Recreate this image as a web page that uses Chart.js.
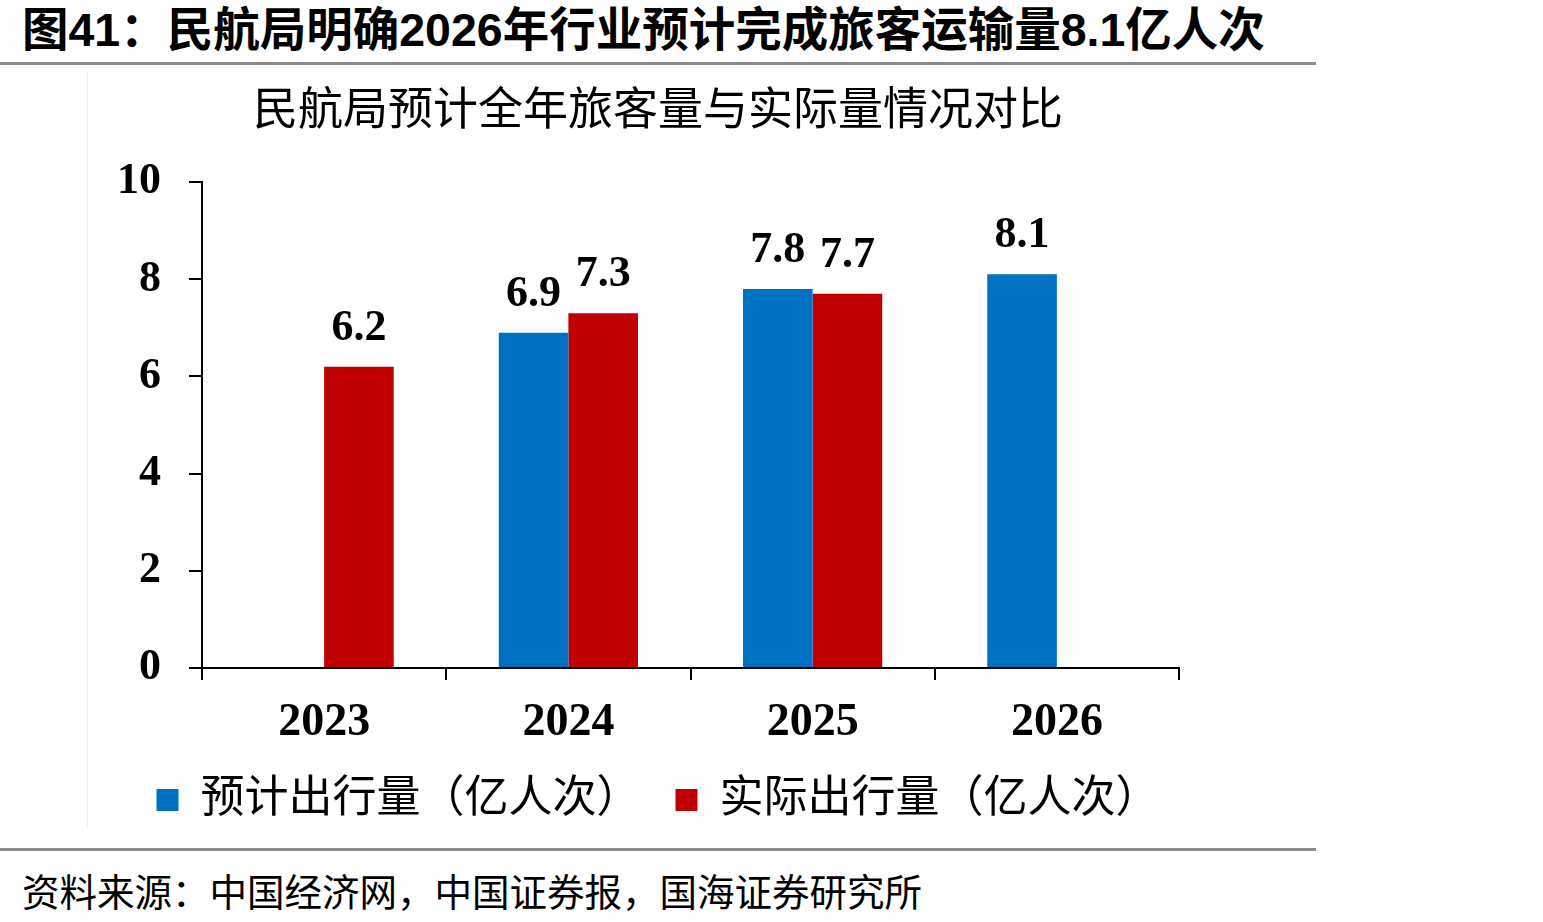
<!DOCTYPE html>
<html lang="zh">
<head>
<meta charset="UTF-8">
<title>民航局预计全年旅客量与实际量情况对比</title>
<script src="https://cdn.jsdelivr.net/npm/chart.js"></script>
<style>
  body { margin: 0; background: #fff; width: 1543px; height: 922px; position: relative; overflow: hidden; }
  #hd { position: absolute; left: 22px; top: -8px; font: bold 46.5px "Liberation Sans", "Noto Sans CJK SC", sans-serif; color: #000; white-space: nowrap; }
  .rule { position: absolute; left: 0; width: 1316px; height: 3px; background: #8c8c8c; }
  #src { position: absolute; left: 22px; top: 862px; font: 37.5px "Liberation Sans", "Noto Sans CJK SC", sans-serif; color: #000; white-space: nowrap; }
  #panel { position: absolute; left: 87px; top: 72px; width: 1px; height: 756px; background: #f0f0f0; }
  #box { position: absolute; left: 0; top: 70px; width: 1316px; height: 775px; }
</style>
</head>
<body>
<div id="hd">图41：民航局明确2026年行业预计完成旅客运输量8.1亿人次</div>
<div class="rule" style="top:62px"></div>
<div id="panel"></div>
<div id="box"><canvas id="chart"></canvas></div>
<div class="rule" style="top:848px"></div>
<div id="src">资料来源：中国经济网，中国证券报，国海证券研究所</div>
<script>
// data
const years = ['2023', '2024', '2025', '2026'];
const planned = [null, 6.9, 7.8, 8.1];   // 预计出行量（亿人次）
const actual = [6.2, 7.3, 7.7, null];    // 实际出行量（亿人次）
const yTicks = [0, 2, 4, 6, 8, 10];

const serif = '"Liberation Serif", "Noto Sans CJK SC", serif';

// value labels above each bar
const barLabels = {
    id: 'barLabels',
    afterDatasetsDraw(chart) {
        const ctx = chart.ctx;
        ctx.save();
        ctx.font = 'bold 44px ' + serif;
        ctx.fillStyle = '#000';
        ctx.textAlign = 'center';
        ctx.textBaseline = 'alphabetic';
        chart.data.datasets.forEach((ds, i) => {
            chart.getDatasetMeta(i).data.forEach((bar, j) => {
                const v = ds.data[j];
                if (v === null) return;
                ctx.fillText(v.toFixed(1), bar.x, bar.y - 27);
            });
        });
        ctx.restore();
    }
};

const chart = new Chart(document.getElementById('chart'), {
    type: 'bar',
    data: {
        labels: years,
        datasets: [
            { label: '预计出行量（亿人次）', data: planned, backgroundColor: '#0070C0' },
            { label: '实际出行量（亿人次）', data: actual, backgroundColor: '#C00000' }
        ]
    },
    options: {
        responsive: true,
        maintainAspectRatio: false,
        animation: false,
        datasets: { bar: { barPercentage: 1, categoryPercentage: 0.57 } },
        layout: { padding: { left: 0, right: 0, top: 0, bottom: 13 } },
        scales: {
            x: {
                grid: { drawOnChartArea: false, tickLength: 12, color: '#000', lineWidth: 2 },
                border: { color: '#000', width: 2 },
                ticks: { color: '#000', padding: 16, font: { family: serif, size: 46, weight: 'bold' } },
                afterFit(scale) { scale.height = 75; }
            },
            y: {
                min: 0, max: 10,
                afterBuildTicks(scale) { scale.ticks = yTicks.map(v => ({ value: v })); },
                grid: { drawOnChartArea: false, tickLength: 13, color: '#000', lineWidth: 2 },
                border: { color: '#000', width: 2 },
                ticks: { color: '#000', padding: 28, font: { family: serif, size: 44, weight: 'bold' } },
                afterFit(scale) { scale.width = 202; }
            },
            // empty spacer on the right so the legend and title stay centred on the panel
            y2: {
                position: 'right',
                grid: { display: false },
                border: { display: false },
                ticks: { display: false },
                afterFit(scale) { scale.width = 137; }
            }
        },
        plugins: {
            title: {
                display: true,
                text: '民航局预计全年旅客量与实际量情况对比',
                color: '#000',
                font: { family: serif, size: 45, weight: 'normal' },
                padding: { top: 16, bottom: 42 }
            },
            legend: {
                position: 'bottom',
                labels: {
                    color: '#000',
                    boxWidth: 22, boxHeight: 22,
                    padding: 35,
                    font: { family: serif, size: 44 }
                }
            },
            tooltip: { enabled: false }
        }
    },
    plugins: [barLabels]
});
</script>
</body>
</html>
